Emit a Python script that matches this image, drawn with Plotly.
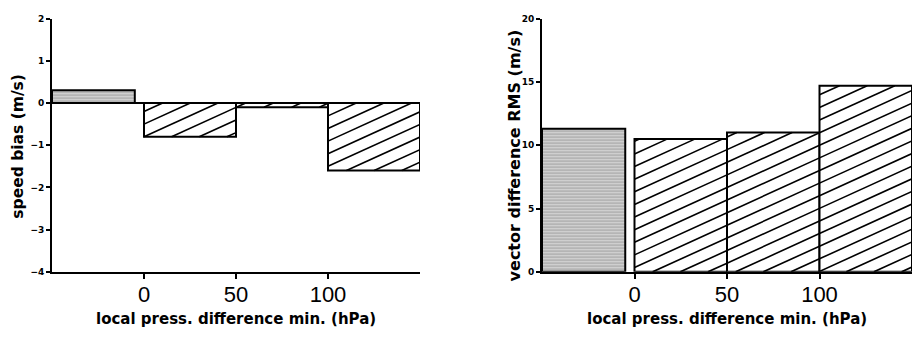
import plotly.graph_objects as go

# Bins of minimum local pressure difference (hPa); first bin is the reference group
bin_lo = [-50, 0, 50, 100]
bin_hi = [-5, 50, 100, 150]
speed_bias = [0.3, -0.8, -0.1, -1.6]        # m/s
vector_rms = [11.3, 10.5, 11.0, 14.7]        # m/s
x_ticks = [0, 50, 100]
x_title = "local press. difference min. (hPa)"
y_title_left = "speed bias (m/s)"
y_title_right = "vector difference RMS (m/s)"

X_RANGE = [-50, 150]
Y_RANGE_LEFT = [-4, 2]
Y_RANGE_RIGHT = [0, 20]

centers = [(a + b) / 2 for a, b in zip(bin_lo, bin_hi)]
widths = [b - a for a, b in zip(bin_lo, bin_hi)]

W, H = 912, 337
PLOT_TOP, PLOT_BOTTOM = 14, 275
LEFT_X = (52, 420)
RIGHT_X = (542, 912)

title_font = dict(family="DejaVu Sans", size=15, color="black", weight="bold")
num_font = dict(family="Liberation Sans", size=22, color="black")
ytick_font = dict(family="DejaVu Sans", size=9, color="black", weight="bold")

stipple = dict(shape="-", fgcolor="#707070", bgcolor="#d4d4d4", size=3, solidity=0.4)

# Hatching: parallel lines of fixed on-screen slope and spacing
HATCH_SLOPE = 0.47     # rise per run, in screen pixels
HATCH_STEP = 13.0      # vertical spacing between lines, in pixels


def hatch_lines(x0, x1, y0, y1, sx, sy):
    """Diagonal hatch segments inside a bar rectangle (data coords).

    sx, sy are pixels per data unit; returns x, y lists with None breaks."""
    px0, px1 = (x0 - X_RANGE[0]) * sx, (x1 - X_RANGE[0]) * sx
    py0, py1 = y0 * sy, y1 * sy
    c_min = py0 - HATCH_SLOPE * px1
    c_max = py1 - HATCH_SLOPE * px0
    k = int(c_min // HATCH_STEP) + 1
    xs, ys = [], []
    while k * HATCH_STEP < c_max:
        c = k * HATCH_STEP
        a = max(px0, (py0 - c) / HATCH_SLOPE)
        b = min(px1, (py1 - c) / HATCH_SLOPE)
        if b > a:
            for p in (a, b):
                xs.append(p / sx + X_RANGE[0])
                ys.append((HATCH_SLOPE * p + c) / sy)
            xs.append(None)
            ys.append(None)
        k += 1
    return xs, ys


def add_panel(values, xa, ya, xpix, yrange):
    sx = (xpix[1] - xpix[0]) / (X_RANGE[1] - X_RANGE[0])
    sy = (PLOT_BOTTOM - PLOT_TOP) / (yrange[1] - yrange[0])
    hx, hy = [], []
    for i, v in enumerate(values):
        is_ref = i == 0
        fig.add_trace(go.Bar(
            x=[centers[i]], y=[v], width=[widths[i]],
            xaxis=xa, yaxis=ya,
            marker=dict(color="white", line=dict(color="black", width=2),
                        pattern=stipple if is_ref else None),
            showlegend=False, hoverinfo="skip"))
        if not is_ref:
            lo, hi = min(0, v), max(0, v)
            xs, ys = hatch_lines(bin_lo[i], bin_hi[i], lo, hi, sx, sy)
            hx += xs
            hy += ys
    fig.add_trace(go.Scatter(x=hx, y=hy, mode="lines", xaxis=xa, yaxis=ya,
                             line=dict(color="black", width=1.6),
                             showlegend=False, hoverinfo="skip"))


fig = go.Figure()
add_panel(speed_bias, "x", "y", LEFT_X, Y_RANGE_LEFT)
add_panel(vector_rms, "x2", "y2", RIGHT_X, Y_RANGE_RIGHT)

x_common = dict(range=X_RANGE, tickvals=x_ticks, ticks="outside", ticklen=5,
                tickwidth=1.5, tickcolor="black", showline=True, linecolor="black",
                linewidth=2, showgrid=False, zeroline=False, tickfont=num_font,
                ticklabelstandoff=-3)
y_common = dict(ticks="outside", ticklen=4, tickwidth=1.5, tickcolor="black",
                showline=True, linecolor="black", linewidth=2, showgrid=False,
                tickfont=ytick_font)
y_domain = [1 - PLOT_BOTTOM / H, 1 - PLOT_TOP / H]

fig.update_layout(
    width=W, height=H, autosize=False,
    margin=dict(l=0, r=0, t=0, b=0),
    paper_bgcolor="white", plot_bgcolor="white",
    barmode="overlay",
    xaxis=dict(domain=[LEFT_X[0] / W, LEFT_X[1] / W], anchor="y", **x_common),
    yaxis=dict(domain=y_domain, anchor="x", range=Y_RANGE_LEFT, dtick=1,
               zeroline=True, zerolinecolor="black", zerolinewidth=1.5, **y_common),
    xaxis2=dict(domain=[RIGHT_X[0] / W, RIGHT_X[1] / W], anchor="y2", **x_common),
    yaxis2=dict(domain=y_domain, anchor="x2", range=Y_RANGE_RIGHT, dtick=5,
                zeroline=False, **y_common),
)

# Axis titles
for xc, txt in [(sum(LEFT_X) / 2 / W, x_title), (sum(RIGHT_X) / 2 / W, x_title)]:
    fig.add_annotation(x=xc, y=1 - 324 / H, xref="paper", yref="paper", text=txt,
                       showarrow=False, font=title_font, xanchor="center", yanchor="middle")
fig.add_annotation(x=18 / W, y=1 - 146 / H, xref="paper", yref="paper", text=y_title_left,
                   textangle=-90, showarrow=False, font=dict(title_font, size=15.5),
                   xanchor="center", yanchor="middle")
fig.add_annotation(x=514 / W, y=1 - 155 / H, xref="paper", yref="paper", text=y_title_right,
                   textangle=-90, showarrow=False, font=dict(title_font, size=16),
                   xanchor="center", yanchor="middle")

fig.write_html("out.html")
